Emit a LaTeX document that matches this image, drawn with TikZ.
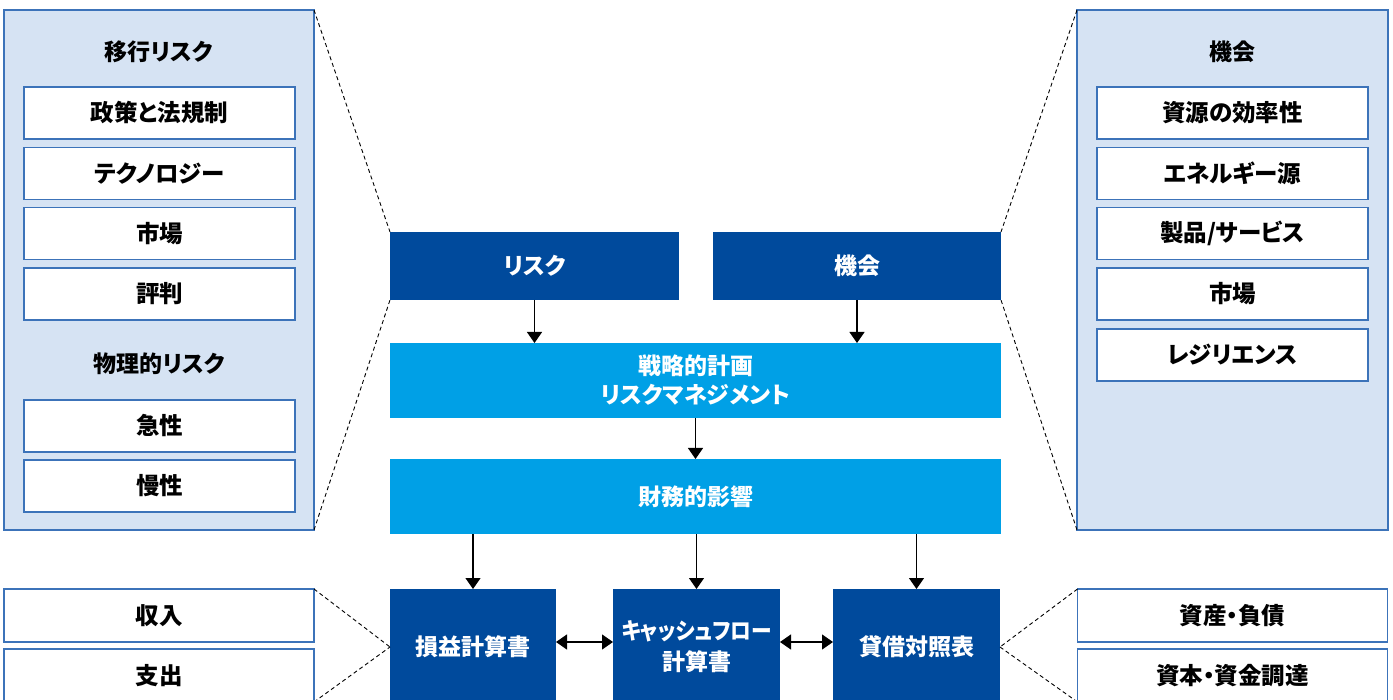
\documentclass[tikz,border=0pt]{standalone}
\usepackage{fontspec}
\usepackage{graphicx}
\setmainfont{Noto Sans CJK JP}[RawFeature=+palt]
\usetikzlibrary{arrows.meta}
\definecolor{darkblue}{RGB}{0,74,156}
\definecolor{lightblue}{RGB}{0,160,230}
\definecolor{panelfill}{RGB}{214,227,243}
\definecolor{panelline}{RGB}{60,115,185}
\tikzset{
  every node/.style={inner sep=0pt, outer sep=0pt},
  panel/.style={fill=panelfill, draw=panelline, line width=1.2pt},
  wbox/.style={fill=white, draw=panelline, line width=1.2pt, minimum width=271pt, minimum height=52pt, font=\bfseries\fontsize{23.5}{27}\selectfont},
  sidebox/.style={fill=white, draw=panelline, line width=1.2pt, minimum width=310pt, minimum height=53pt, font=\bfseries\fontsize{23.5}{27}\selectfont},
  ptitle/.style={font=\bfseries\fontsize{23}{27}\selectfont},
  dkbox/.style={fill=darkblue, text=white, align=center, font=\bfseries\fontsize{23}{31}\selectfont},
  ltbox/.style={fill=lightblue, text=white, align=center, font=\bfseries\fontsize{23}{29}\selectfont},
  dsh/.style={draw=black, dash pattern=on 4pt off 3pt, line width=0.9pt},
  arr/.style={draw=black, line width=1.2pt, -{Triangle[width=15pt,length=11pt]}},
  darr/.style={draw=black, line width=1.2pt, {Triangle[width=15pt,length=11pt]}-{Triangle[width=15pt,length=11pt]}}
}
\begin{document}
\begin{tikzpicture}[x=1pt,y=-1pt]
\useasboundingbox (0,0) rectangle (1393,700);
% left panel
\node[panel, minimum width=310pt, minimum height=520pt] (lp) at (159,270) {};
\node[ptitle] (lt1) at (159,52) {移行リスク};
\node[wbox] (l1) at (159.5,113) {政策と法規制};
\node[wbox] (l2) at (159.5,173.5) {テクノロジー};
\node[wbox] (l3) at (159.5,233.5) {市場};
\node[wbox] (l4) at (159.5,294) {評判};
\node[ptitle] (lt2) at (159,364) {物理的リスク};
\node[wbox] (l5) at (159.5,426) {急性};
\node[wbox] (l6) at (159.5,486) {慢性};
% right panel
\node[panel, minimum width=311pt, minimum height=520pt] (rp) at (1232.5,270) {};
\node[ptitle] (rt1) at (1232.5,52) {機会};
\node[wbox] (r1) at (1232.5,113) {資源の効率性};
\node[wbox] (r2) at (1232.5,173.5) {エネルギー源};
\node[wbox] (r3) at (1232.5,233.5) {製品/サービス};
\node[wbox] (r4) at (1232.5,294) {市場};
\node[wbox] (r5) at (1232.5,355) {レジリエンス};
% center
\node[dkbox, minimum width=289pt, minimum height=68pt] (risk) at (534.5,266) {リスク};
\node[dkbox, minimum width=288pt, minimum height=68pt] (opp) at (857,266) {機会};
\node[ltbox, minimum width=611pt, minimum height=75pt] (strat) at (695.5,380.5) {戦略的計画\\リスクマネジメント};
\node[ltbox, minimum width=611pt, minimum height=75pt] (fin) at (695.5,496.5) {財務的影響};
\node[dkbox, minimum width=166pt, minimum height=116pt] (pl) at (473,647) {損益計算書};
\node[dkbox, minimum width=167pt, minimum height=116pt] (cf) at (696.5,647) {\scalebox{0.9}[1]{キャッシュフロー}\\計算書};
\node[dkbox, minimum width=167pt, minimum height=116pt] (bs) at (916.5,647) {貸借対照表};
% bottom side boxes
\node[sidebox] (inc) at (159,615.5) {収入};
\node[sidebox] (exp) at (159,675.5) {支出};
\node[sidebox] (ast) at (1232.5,615.5) {資産・負債};
\node[sidebox] (cap) at (1232.5,675.5) {資本・資金調達};
% dashed connectors
\draw[dsh] (lp.north east) -- (risk.north west);
\draw[dsh] (lp.south east) -- (risk.south west);
\draw[dsh] (rp.north west) -- (opp.north east);
\draw[dsh] (rp.south west) -- (opp.south east);
\draw[dsh] (inc.north east) -- (pl.west);
\draw[dsh] (exp.south east) -- (pl.west);
\draw[dsh] (ast.north west) -- (bs.east);
\draw[dsh] (cap.south west) -- (bs.east);
% arrows
\draw[arr] (risk.south) -- (risk.south |- strat.north);
\draw[arr] (opp.south) -- (opp.south |- strat.north);
\draw[arr] (strat.south) -- (fin.north);
\draw[arr] (pl.north |- fin.south) -- (pl.north);
\draw[arr] (cf.north |- fin.south) -- (cf.north);
\draw[arr] (bs.north |- fin.south) -- (bs.north);
\draw[darr] (pl.east |- 0,642) -- (cf.west |- 0,642);
\draw[darr] (cf.east |- 0,642) -- (bs.west |- 0,642);
\end{tikzpicture}
\end{document}
